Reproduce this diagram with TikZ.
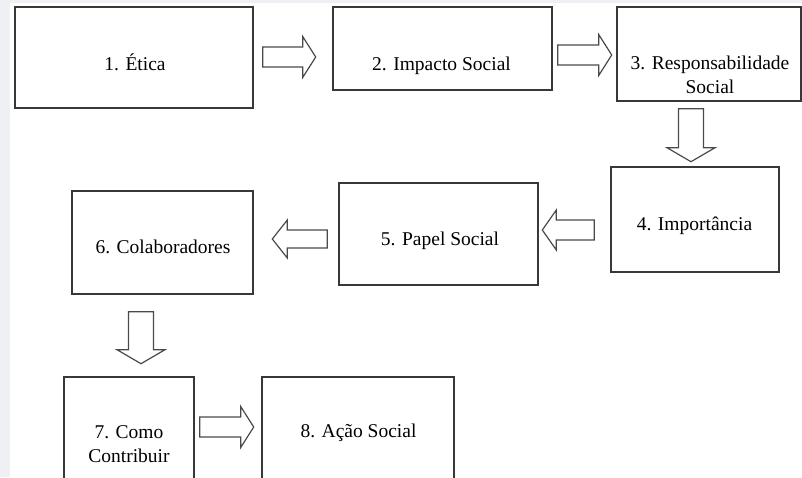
\documentclass[tikz,border=0pt]{standalone}
\usepackage{fontspec}
\setmainfont{Liberation Serif}
\usetikzlibrary{calc}
\definecolor{pagegray}{HTML}{EEF0F3}
\definecolor{edge}{HTML}{383838}
\definecolor{arrowedge}{HTML}{4A4A4A}
% block arrow: #1 tail point, #2 angle, #3 length, #4 shaft half width, #5 head half width, #6 head length
\newcommand\blockarrow[6]{%
  \draw[arrowline, shift={#1}, rotate=#2]
    (0,-#4) -- ({#3-#6},-#4) -- ({#3-#6},-#5) -- (#3,0) --
    ({#3-#6},#5) -- ({#3-#6},#4) -- (0,#4) -- cycle;}
\begin{document}
\begin{tikzpicture}[x=1pt,y=-1pt,
  box/.style={draw=edge, line width=1.4pt, inner sep=0pt},
  lbl/.style={font=\fontsize{19.5}{24}\selectfont, align=center, anchor=base, inner sep=0pt},
  arrowline/.style={draw=arrowedge, line width=1.2pt, fill=white, line join=miter}]
\useasboundingbox (0,0) rectangle (802,477);
\fill[pagegray] (0,0) rectangle (802,477);
\fill[white] (10,3) rectangle (802,477);
\begin{scope}
\clip (0,0) rectangle (802,477);
% boxes
\node[box, minimum width=238pt, minimum height=101pt] (b1) at (134,57.5) {};
\node[box, minimum width=219pt, minimum height=83pt] (b2) at (442.5,48.5) {};
\node[box, minimum width=184pt, minimum height=94pt] (b3) at (709,54) {};
\node[box, minimum width=168pt, minimum height=105pt] (b4) at (695,219.5) {};
\node[box, minimum width=199pt, minimum height=102pt] (b5) at (438.5,234) {};
\node[box, minimum width=181pt, minimum height=103pt] (b6) at (162.5,242.5) {};
\node[box, minimum width=130pt, minimum height=113pt] (b7) at (129,433.5) {};
\node[box, minimum width=192pt, minimum height=113pt] (b8) at (358,433.5) {};
% labels (base anchor sits on the last line)
\node[lbl] (t1) at (135,70) {1. Ética};
\node[lbl] (t2) at (441.5,70) {2. Impacto Social};
\node[lbl] (t3) at (710,93) {3. Responsabilidade\\Social};
\node[lbl] (t4) at (694.5,230) {4. Importância};
\node[lbl] (t5) at (440,245) {5. Papel Social};
\node[lbl] (t6) at (163,253) {6. Colaboradores};
\node[lbl] (t7) at (129,462) {7. Como\\Contribuir};
\node[lbl] (t8) at (358.5,437) {8. Ação Social};
% block arrows between the boxes
\blockarrow{($(b1.east)+(9,-0.5)$)}{0}{53}{10}{20.5}{13}
\blockarrow{($(b2.east)+(5,6.5)$)}{0}{54}{10}{20.5}{13}
\blockarrow{($(b3.south)+(-18,7)$)}{-90}{53}{12.5}{24}{14}
\blockarrow{($(b4.west)+(-16,10.5)$)}{180}{52}{10}{20}{14}
\blockarrow{($(b5.west)+(-11,5)$)}{180}{55}{9}{19}{15}
\blockarrow{($(b6.south)+(-21.5,17)$)}{-90}{52}{12.5}{24}{14}
\blockarrow{($(b7.east)+(5,-6.5)$)}{0}{54}{10}{20.5}{13}
\end{scope}
\end{tikzpicture}
\end{document}
